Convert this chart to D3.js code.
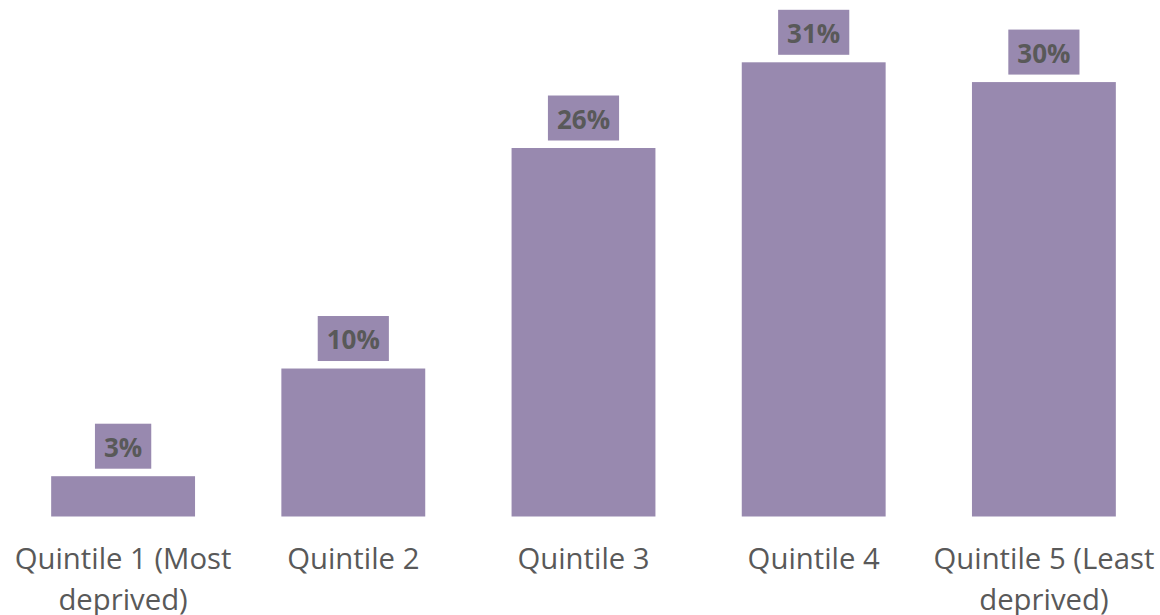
<!DOCTYPE html>
<html lang="en">
<head>
    <meta charset="UTF-8">
    <title>Quintiles</title>
    <script src="https://d3js.org/d3.v7.min.js"></script>
    <style>
        body {
            margin: 0;
            background: #fff;
            font-family: 'Open Sans', sans-serif;
        }
    </style>
</head>
<body>
    <div id="chart"></div>

    <script>
        // Data
        const categories = [
            'Quintile 1 (Most deprived)',
            'Quintile 2',
            'Quintile 3',
            'Quintile 4',
            'Quintile 5 (Least deprived)'
        ];
        const values = [2.75, 10.1, 25.15, 31.0, 29.65];
        const labels = ['3%', '10%', '26%', '31%', '30%'];

        // Chart dimensions
        const width = 1160;
        const height = 615;
        const baseline = 516.5;

        const svg = d3.select('#chart')
            .append('svg')
            .attr('width', width)
            .attr('height', height);

        const x = d3.scaleBand()
            .domain(categories)
            .range([8, 1159])
            .paddingInner(0.375)
            .paddingOuter(0.1875);

        const y = d3.scaleLinear()
            .domain([0, 31])
            .range([baseline, 62.3]);

        const barColor = '#9889af';
        const textColor = '#595959';

        // Bars
        svg.append('g')
            .selectAll('rect')
            .data(values)
            .join('rect')
            .attr('x', (d, i) => x(categories[i]))
            .attr('y', d => y(d))
            .attr('width', x.bandwidth())
            .attr('height', d => baseline - y(d))
            .attr('fill', barColor);

        // Value labels in boxes
        const lab = svg.append('g')
            .selectAll('g')
            .data(values)
            .join('g');

        lab.each(function (d, i) {
            const g = d3.select(this);
            const cx = x(categories[i]) + x.bandwidth() / 2;
            const bottom = y(d) - 7.5;
            const rect = g.append('rect').attr('fill', barColor);
            const t = g.append('text')
                .attr('x', cx)
                .attr('y', bottom - 12)
                .attr('text-anchor', 'middle')
                .attr('font-size', 26)
                .attr('font-weight', 700)
                .attr('fill', textColor)
                .text(labels[i]);
            const w = t.node().getComputedTextLength() + 18;
            rect.attr('x', cx - w / 2)
                .attr('y', bottom - 45)
                .attr('width', w)
                .attr('height', 45);
        });

        // Category labels (wrapped)
        const labelY = 52;
        const lineH = 41;

        const xAxis = svg.append('g')
            .attr('transform', `translate(0,${baseline})`)
            .call(d3.axisBottom(x).tickSize(0).tickPadding(0));

        xAxis.select('.domain').remove();
        xAxis.selectAll('text')
            .attr('font-family', "'Open Sans', sans-serif")
            .attr('font-size', 29.3)
            .attr('fill', textColor)
            .attr('dy', null)
            .attr('y', labelY)
            .call(wrap, x.step());

        function wrap(texts, maxW) {
            texts.each(function () {
                const text = d3.select(this);
                const words = text.text().split(/\s+/);
                text.text(null);
                let line = [];
                let lineNo = 0;
                let tspan = text.append('tspan').attr('x', 0).attr('y', labelY);
                words.forEach(word => {
                    line.push(word);
                    tspan.text(line.join(' '));
                    if (tspan.node().getComputedTextLength() > maxW && line.length > 1) {
                        line.pop();
                        tspan.text(line.join(' '));
                        line = [word];
                        lineNo++;
                        tspan = text.append('tspan')
                            .attr('x', 0)
                            .attr('y', labelY + lineNo * lineH)
                            .text(word);
                    }
                });
            });
        }
    </script>
</body>
</html>
